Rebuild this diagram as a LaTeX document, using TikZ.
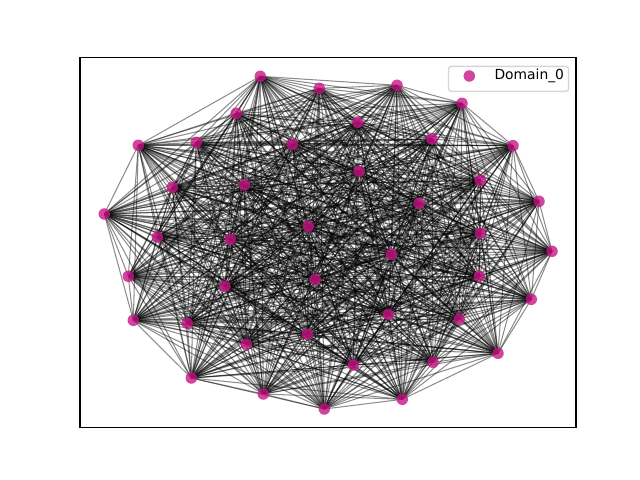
\documentclass[tikz,border=0pt]{standalone}
\usepackage{fontspec}
\setmainfont{DejaVu Sans}
\usetikzlibrary{backgrounds,positioning}
\definecolor{dgink}{HTML}{000000}
\definecolor{dgnode}{HTML}{C71585}
\definecolor{dgframe}{HTML}{CCCCCC}
\tikzset{
  dg node/.style={circle, fill=dgnode, fill opacity=0.8, draw=none,
    minimum size=0.115in, inner sep=0pt},
  dg edge/.style={draw=dgink, draw opacity=0.45, line width=0.75pt},
  dg axes/.style={draw=dgink, line width=0.8pt},
  dg legend/.style={draw=dgframe, draw opacity=0.8, fill=white, fill opacity=0.8,
    line width=1pt, rounded corners=2pt},
  dg label/.style={font=\fontsize{10}{12}\selectfont, text=dgink, anchor=west, inner sep=0pt}
}

\begin{document}
\begin{tikzpicture}[x=0.01in, y=-0.01in]
  \useasboundingbox (0,0) rectangle (640,480);
  % graph nodes
  \foreach \x/\y [count=\i] in {
      260.3/76.3, 319.3/88.3, 397/85.3, 462/103.3, 513/145.7, 539/201.3,
      552/251.3, 531.3/299.3, 498/353.3, 433/362.3, 402.3/399.3, 324.3/409,
      263.3/394, 191.3/378, 133.3/320.3, 128.3/276.3, 104.3/214, 138.3/145.3,
      196.3/142.3, 236.3/113.3, 358/122.3, 432/139, 292.3/144.3, 172.3/187.3,
      244.3/185, 359/171.3, 480.3/180.3, 419.3/203.3, 157.3/237, 230.3/239.3,
      308.3/226.3, 480.3/233.3, 391.3/254.3, 479.3/276.3, 315.3/279.3, 225/286.3,
      388.3/314.3, 459.3/319, 187.3/323.3, 307.3/334.3, 246.3/344.3, 353.3/365}
    \node[dg node] (n\i) at (\x,\y) {};
  % every pair of nodes is joined
  \begin{scope}[on background layer]
    \foreach \i in {1,...,41}{
      \pgfmathtruncatemacro\k{\i+1}
      \foreach \j in {\k,...,42}
        \draw[dg edge] (n\i.center) -- (n\j.center);
    }
  \end{scope}
  % axes and legend
  \draw[dg axes] (80,57.6) rectangle (576,427.2);
  \node[dg legend, minimum width=1.2in, minimum height=0.25in, anchor=north east]
    (legend) at (569.3,65.7) {};
  \node[dg node] (legend mark) at (469.3,76) {};
  \node[dg label] (legend text) at (494.3,76) {Domain\_0};
\end{tikzpicture}
\end{document}
